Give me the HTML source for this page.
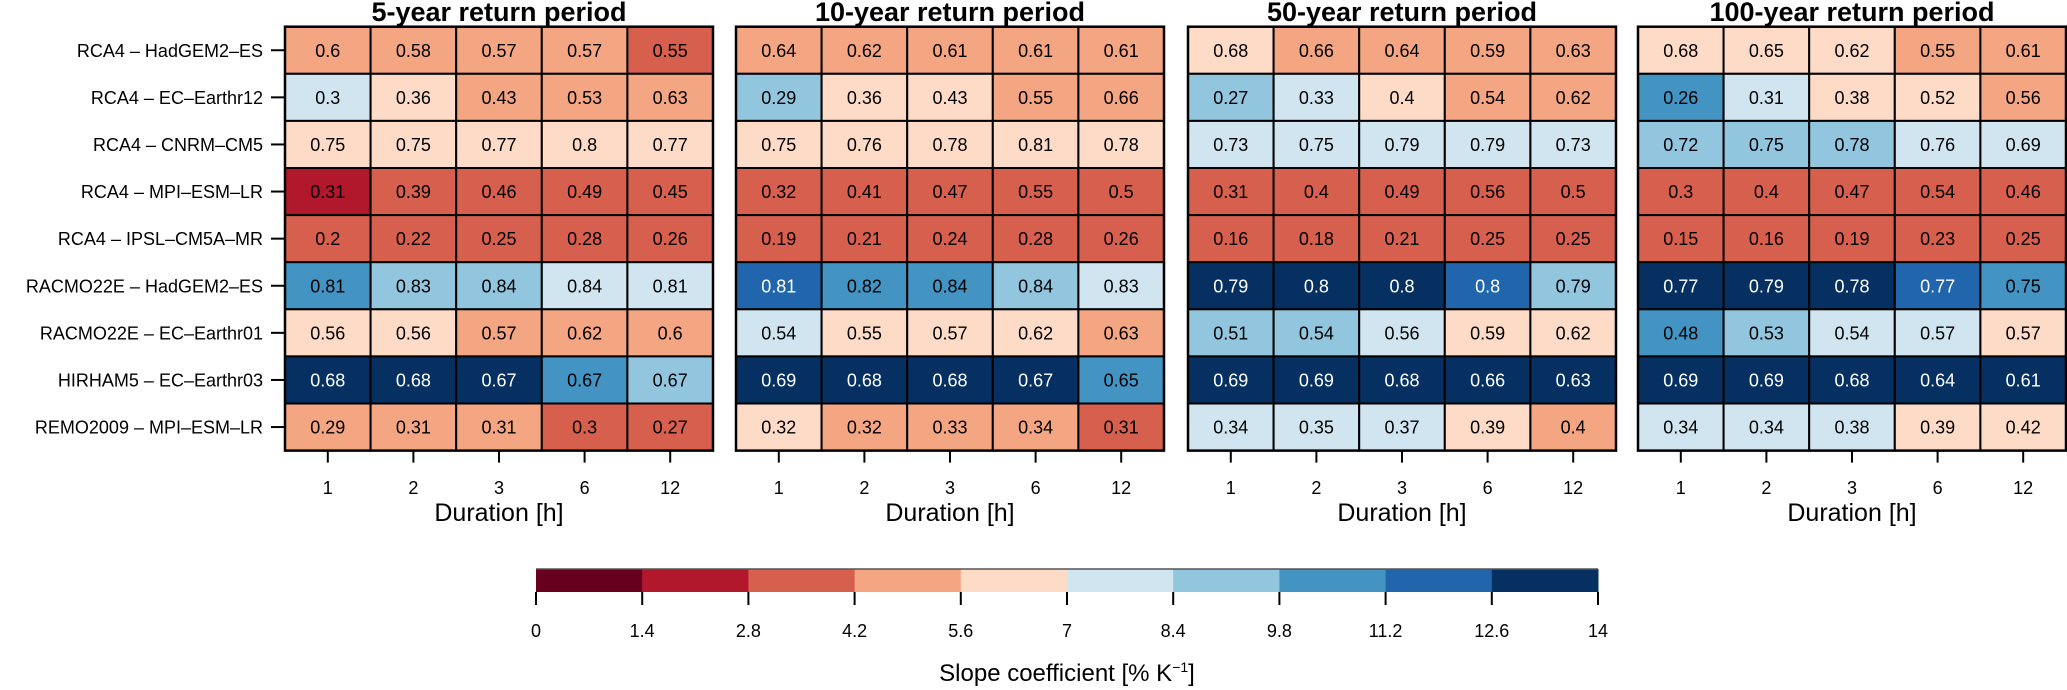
<!DOCTYPE html>
<html><head><meta charset="utf-8">
<style>
html,body{margin:0;padding:0;background:#fff;}
svg{display:block;font-family:"Liberation Sans",Arial,sans-serif;}
</style></head>
<body>
<svg id="chart" width="2067" height="690" viewBox="0 0 2067 690" xmlns="http://www.w3.org/2000/svg"></svg>
<script>
const models = ["RCA4 – HadGEM2–ES","RCA4 – EC–Earthr12","RCA4 – CNRM–CM5","RCA4 – MPI–ESM–LR","RCA4 – IPSL–CM5A–MR","RACMO22E – HadGEM2–ES","RACMO22E – EC–Earthr01","HIRHAM5 – EC–Earthr03","REMO2009 – MPI–ESM–LR"];
const durations = ["1","2","3","6","12"];
const periodTitles = ["5-year return period","10-year return period","50-year return period","100-year return period"];
const colorTicks = ["0","1.4","2.8","4.2","5.6","7","8.4","9.8","11.2","12.6","14"];
const palette = ["#67001f","#b2182b","#d6604d","#f4a582","#fddbc7","#d1e5f0","#92c5de","#4393c3","#2166ac","#053061"];

const values5 = [[0.6,0.58,0.57,0.57,0.55],[0.3,0.36,0.43,0.53,0.63],[0.75,0.75,0.77,0.8,0.77],[0.31,0.39,0.46,0.49,0.45],[0.2,0.22,0.25,0.28,0.26],[0.81,0.83,0.84,0.84,0.81],[0.56,0.56,0.57,0.62,0.6],[0.68,0.68,0.67,0.67,0.67],[0.29,0.31,0.31,0.3,0.27]];
const values10 = [[0.64,0.62,0.61,0.61,0.61],[0.29,0.36,0.43,0.55,0.66],[0.75,0.76,0.78,0.81,0.78],[0.32,0.41,0.47,0.55,0.5],[0.19,0.21,0.24,0.28,0.26],[0.81,0.82,0.84,0.84,0.83],[0.54,0.55,0.57,0.62,0.63],[0.69,0.68,0.68,0.67,0.65],[0.32,0.32,0.33,0.34,0.31]];
const values50 = [[0.68,0.66,0.64,0.59,0.63],[0.27,0.33,0.4,0.54,0.62],[0.73,0.75,0.79,0.79,0.73],[0.31,0.4,0.49,0.56,0.5],[0.16,0.18,0.21,0.25,0.25],[0.79,0.8,0.8,0.8,0.79],[0.51,0.54,0.56,0.59,0.62],[0.69,0.69,0.68,0.66,0.63],[0.34,0.35,0.37,0.39,0.4]];
const values100 = [[0.68,0.65,0.62,0.55,0.61],[0.26,0.31,0.38,0.52,0.56],[0.72,0.75,0.78,0.76,0.69],[0.3,0.4,0.47,0.54,0.46],[0.15,0.16,0.19,0.23,0.25],[0.77,0.79,0.78,0.77,0.75],[0.48,0.53,0.54,0.57,0.57],[0.69,0.69,0.68,0.64,0.61],[0.34,0.34,0.38,0.39,0.42]];

const classes5 = [[3,3,3,3,2],[5,4,3,3,3],[4,4,4,4,4],[1,2,2,2,2],[2,2,2,2,2],[7,6,6,5,5],[4,4,3,3,3],[9,9,9,7,6],[3,3,3,2,2]];
const classes10 = [[3,3,3,3,3],[6,4,4,3,3],[4,4,4,4,4],[2,2,2,2,2],[2,2,2,2,2],[8,7,7,6,5],[5,4,4,4,3],[9,9,9,9,7],[4,3,3,3,2]];
const classes50 = [[4,3,3,3,3],[6,5,4,3,3],[5,5,5,5,5],[2,2,2,2,2],[2,2,2,2,2],[9,9,9,8,6],[6,6,5,4,4],[9,9,9,9,9],[5,5,5,4,3]];
const classes100 = [[4,4,4,3,3],[7,5,4,4,3],[6,6,6,5,5],[2,2,2,2,2],[2,2,2,2,2],[9,9,9,8,7],[7,6,5,5,4],[9,9,9,9,9],[5,5,5,4,4]];

const allValues = [values5, values10, values50, values100];
const allClasses = [classes5, classes10, classes50, classes100];

const NS = "http://www.w3.org/2000/svg";
const svg = document.getElementById("chart");
function mk(tag, attrs, parent, text){
  const e = document.createElementNS(NS, tag);
  for (const k in attrs) e.setAttribute(k, attrs[k]);
  if (text !== undefined) e.textContent = text;
  (parent||svg).appendChild(e);
  return e;
}
const panelLeft = [285, 736, 1188, 1638];
const panelW = 428, top0 = 26.7, rowH = 47.1;
const colW = panelW / durations.length;
const xPos = (p, c) => panelLeft[p] + c * colW;
const yPos = r => top0 + r * rowH;

// row labels
models.forEach((m, r) => {
  const t = mk("text", {x: 263, y: yPos(r) + rowH/2 + 6.5, "text-anchor": "end", "font-size": 18, fill: "#000"}, svg, m);
  
  
  const tk = mk("line", {x1: 271, x2: 285, y1: yPos(r) + rowH/2, y2: yPos(r) + rowH/2, stroke: "#000", "stroke-width": 2});
  
  
});

allValues.forEach((vals, p) => {
  const g = mk("g", {});
  
  
  const title = mk("text", {x: panelLeft[p] + panelW/2, y: 21, "text-anchor": "middle", "font-size": 27, "font-weight": "bold", fill: "#000"}, g, periodTitles[p]);
  
  
  vals.forEach((row, r) => {
    row.forEach((v, c) => {
      const cls = allClasses[p][r][c];
      const rect = mk("rect", {x: xPos(p, c), y: yPos(r), width: colW, height: rowH, fill: palette[cls], stroke: "#000", "stroke-width": 2}, g);
      
      
      const t = mk("text", {x: xPos(p, c) + colW/2, y: yPos(r) + rowH/2 + 6.5, "text-anchor": "middle", "font-size": 18, fill: cls >= 8 ? "#fff" : "#000"}, g, String(v));
      
      
    });
  });
  mk("rect", {x: panelLeft[p], y: top0, width: panelW, height: rowH*models.length, fill: "none", stroke: "#000", "stroke-width": 2.5}, g);
  durations.forEach((d, c) => {
    const cx = xPos(p, c) + colW/2;
    const tk = mk("line", {x1: cx, x2: cx, y1: yPos(models.length), y2: yPos(models.length) + 12, stroke: "#000", "stroke-width": 2}, g);
    
    
    const tl = mk("text", {x: cx, y: 494, "text-anchor": "middle", "font-size": 18, fill: "#000"}, g, d);
    
    
  });
  const xt = mk("text", {x: panelLeft[p] + panelW/2, y: 521, "text-anchor": "middle", "font-size": 25, fill: "#000"}, g, "Duration [h]");
  
  
});

// colorbar
const cbL = 536, cbR = 1598, cbT = 569, cbB = 592;
const cbScale = i => cbL + i * (cbR - cbL) / palette.length;
const cb = mk("g", {});


palette.forEach((col, i) => {
  const r = mk("rect", {x: cbScale(i), y: cbT, width: cbScale(i+1) - cbScale(i) + 0.5, height: cbB - cbT, fill: col}, cb);
  
  
});
mk("line", {x1: cbL, x2: cbR, y1: cbT, y2: cbT, stroke: "#555", "stroke-width": 1.5}, cb);
colorTicks.forEach((lab, i) => {
  const x = cbScale(i);
  mk("line", {x1: x, x2: x, y1: cbB, y2: 605, stroke: "#000", "stroke-width": 2}, cb);
  const t = mk("text", {x: x, y: 637, "text-anchor": "middle", "font-size": 18, fill: "#000"}, cb, lab);
  
  
});
const ct = mk("text", {x: (cbL + cbR)/2, y: 681, "text-anchor": "middle", "font-size": 24, fill: "#000"}, cb);


ct.appendChild(document.createTextNode("Slope coefficient [% K"));
const sup = mk("tspan", {"font-size": 14, dy: -9}, ct, "−1");
const close = mk("tspan", {dy: 9}, ct, "]");
</script>
</body></html>
